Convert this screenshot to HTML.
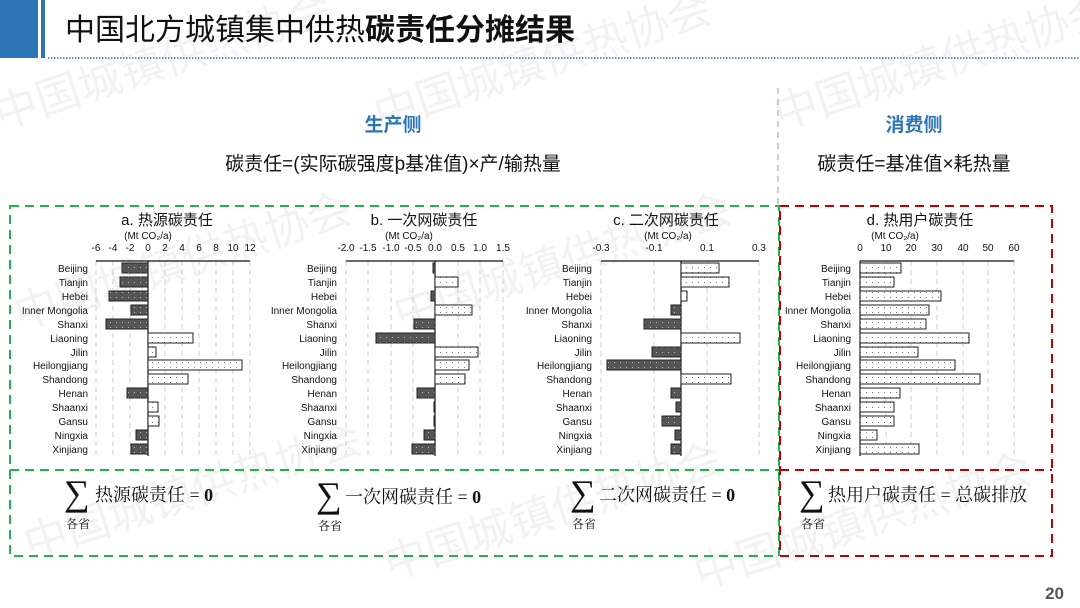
<!DOCTYPE html>
<html><head><meta charset="utf-8"><style>
body{margin:0;width:1080px;height:608px;background:#fff;overflow:hidden;position:relative;font-family:"Liberation Sans","Noto Sans CJK SC",sans-serif}
.abs{position:absolute;white-space:nowrap}
</style></head><body>
<svg class="abs" style="left:0;top:0" width="1080" height="608" xmlns="http://www.w3.org/2000/svg" font-family="Liberation Sans, Noto Sans CJK SC, sans-serif">
<defs>
<pattern id="dk" width="6" height="5" patternUnits="userSpaceOnUse"><rect width="6" height="5" fill="#555"/><rect x="2" y="2" width="1" height="1" fill="#bbb"/></pattern>
<pattern id="lt" width="6" height="5" patternUnits="userSpaceOnUse"><rect width="6" height="5" fill="#fff"/><rect x="2" y="2" width="1" height="1" fill="#777"/></pattern>
</defs>
<g fill="#000" fill-opacity="0.05" font-size="44">
<text transform="translate(0,130) rotate(-18)">中国城镇供热协会</text>
<text transform="translate(380,130) rotate(-18)">中国城镇供热协会</text>
<text transform="translate(780,130) rotate(-18)">中国城镇供热协会</text>
<text transform="translate(20,330) rotate(-18)">中国城镇供热协会</text>
<text transform="translate(400,330) rotate(-18)">中国城镇供热协会</text>
<text transform="translate(30,560) rotate(-18)">中国城镇供热协会</text>
<text transform="translate(390,580) rotate(-18)">中国城镇供热协会</text>
<text transform="translate(700,590) rotate(-18)">中国城镇供热协会</text>
</g>
<rect x="0" y="0" width="38" height="58" fill="#2e75b6"/>
<rect x="41" y="0" width="4" height="58" fill="#2e75b6"/>
<line x1="48" y1="58" x2="1080" y2="58" stroke="#2e75b6" stroke-width="1.5" stroke-dasharray="1.5,1.5"/>
<text x="65" y="40" font-size="30" fill="#111">中国北方城镇集中供热<tspan font-weight="bold">碳责任分摊结果</tspan></text>
<text x="393" y="131" font-size="19" font-weight="bold" fill="#2e75b6" text-anchor="middle">生产侧</text>
<text x="914" y="131" font-size="19" font-weight="bold" fill="#2e75b6" text-anchor="middle">消费侧</text>
<text x="393" y="170" font-size="19" fill="#111" text-anchor="middle">碳责任=(实际碳强度þ基准值)×产/输热量</text>
<text x="914" y="170" font-size="19" fill="#111" text-anchor="middle">碳责任=基准值×耗热量</text>
<line x1="778" y1="88" x2="778" y2="206" stroke="#bbb" stroke-width="1.5" stroke-dasharray="6,5"/>
<rect x="10" y="206" width="769" height="350" fill="none" stroke="#22b14c" stroke-width="2" stroke-dasharray="9,6"/>
<line x1="10" y1="470" x2="779" y2="470" stroke="#22b14c" stroke-width="2" stroke-dasharray="9,6"/>
<rect x="780" y="206" width="272" height="350" fill="none" stroke="#c00000" stroke-width="2" stroke-dasharray="9,6"/>
<line x1="780" y1="470" x2="1052" y2="470" stroke="#c00000" stroke-width="2" stroke-dasharray="9,6"/>
<g font-size="15" fill="#111" text-anchor="middle">
<text x="167" y="225">a. 热源碳责任</text>
<text x="424" y="225">b. 一次网碳责任</text>
<text x="666" y="225">c. 二次网碳责任</text>
<text x="920" y="225">d. 热用户碳责任</text>
</g>
<g font-size="10" fill="#111" text-anchor="middle">
<text x="148" y="239">(Mt CO₂/a)</text>
<text x="409" y="239">(Mt CO₂/a)</text>
<text x="668" y="239">(Mt CO₂/a)</text>
<text x="895" y="239">(Mt CO₂/a)</text>
</g>
<g font-size="10" fill="#111" text-anchor="middle">
<text x="96" y="251">-6</text><text x="113" y="251">-4</text><text x="130" y="251">-2</text><text x="148" y="251">0</text><text x="165" y="251">2</text><text x="182" y="251">4</text><text x="199" y="251">6</text><text x="216" y="251">8</text><text x="233" y="251">10</text><text x="250" y="251">12</text>
<text x="346" y="251">-2.0</text><text x="368" y="251">-1.5</text><text x="391" y="251">-1.0</text><text x="413" y="251">-0.5</text><text x="435" y="251">0.0</text><text x="458" y="251">0.5</text><text x="480" y="251">1.0</text><text x="503" y="251">1.5</text>
<text x="601" y="251">-0.3</text><text x="654" y="251">-0.1</text><text x="707" y="251">0.1</text><text x="759" y="251">0.3</text>
<text x="860" y="251">0</text><text x="886" y="251">10</text><text x="911" y="251">20</text><text x="937" y="251">30</text><text x="963" y="251">40</text><text x="988" y="251">50</text><text x="1014" y="251">60</text>
</g>
<g stroke="#ccc" stroke-width="1" stroke-dasharray="5,4">
<path d="M96 261V456M113 261V456M130 261V456M165 261V456M182 261V456M199 261V456M216 261V456M233 261V456M250 261V456"/>
<path d="M346 261V456M368 261V456M391 261V456M413 261V456M458 261V456M480 261V456M503 261V456"/>
<path d="M601 261V456M654 261V456M707 261V456M759 261V456"/>
<path d="M886 261V456M911 261V456M937 261V456M963 261V456M988 261V456M1014 261V456"/>
</g>
<g stroke="#111" stroke-width="1.2">
<path d="M96 261H250M148 261V456"/>
<path d="M346 261H503M435 261V456"/>
<path d="M601 261H759M681 261V456"/>
<path d="M860 261H1014M860 261V456"/>
</g>
<g font-size="10" fill="#111" text-anchor="end">
<g transform="translate(88,0)"><text y="272">Beijing</text><text y="286">Tianjin</text><text y="300">Hebei</text><text y="314">Inner Mongolia</text><text y="328">Shanxi</text><text y="342">Liaoning</text><text y="356">Jilin</text><text y="369">Heilongjiang</text><text y="383">Shandong</text><text y="397">Henan</text><text y="411">Shaanxi</text><text y="425">Gansu</text><text y="439">Ningxia</text><text y="453">Xinjiang</text></g>
<g transform="translate(337,0)"><text y="272">Beijing</text><text y="286">Tianjin</text><text y="300">Hebei</text><text y="314">Inner Mongolia</text><text y="328">Shanxi</text><text y="342">Liaoning</text><text y="356">Jilin</text><text y="369">Heilongjiang</text><text y="383">Shandong</text><text y="397">Henan</text><text y="411">Shaanxi</text><text y="425">Gansu</text><text y="439">Ningxia</text><text y="453">Xinjiang</text></g>
<g transform="translate(592,0)"><text y="272">Beijing</text><text y="286">Tianjin</text><text y="300">Hebei</text><text y="314">Inner Mongolia</text><text y="328">Shanxi</text><text y="342">Liaoning</text><text y="356">Jilin</text><text y="369">Heilongjiang</text><text y="383">Shandong</text><text y="397">Henan</text><text y="411">Shaanxi</text><text y="425">Gansu</text><text y="439">Ningxia</text><text y="453">Xinjiang</text></g>
<g transform="translate(851,0)"><text y="272">Beijing</text><text y="286">Tianjin</text><text y="300">Hebei</text><text y="314">Inner Mongolia</text><text y="328">Shanxi</text><text y="342">Liaoning</text><text y="356">Jilin</text><text y="369">Heilongjiang</text><text y="383">Shandong</text><text y="397">Henan</text><text y="411">Shaanxi</text><text y="425">Gansu</text><text y="439">Ningxia</text><text y="453">Xinjiang</text></g>
</g>
<g stroke="#222" stroke-width="1">
<rect x="122" y="263" width="26" height="10" fill="url(#dk)"/>
<rect x="120" y="277" width="28" height="10" fill="url(#dk)"/>
<rect x="109" y="291" width="39" height="10" fill="url(#dk)"/>
<rect x="131" y="305" width="17" height="10" fill="url(#dk)"/>
<rect x="106" y="319" width="42" height="10" fill="url(#dk)"/>
<rect x="148" y="333" width="45" height="10" fill="url(#lt)"/>
<rect x="148" y="347" width="8" height="10" fill="url(#lt)"/>
<rect x="148" y="360" width="94" height="10" fill="url(#lt)"/>
<rect x="148" y="374" width="40" height="10" fill="url(#lt)"/>
<rect x="127" y="388" width="21" height="10" fill="url(#dk)"/>
<rect x="148" y="402" width="10" height="10" fill="url(#lt)"/>
<rect x="148" y="416" width="11" height="10" fill="url(#lt)"/>
<rect x="136" y="430" width="12" height="10" fill="url(#dk)"/>
<rect x="131" y="444" width="17" height="10" fill="url(#dk)"/>
<rect x="433" y="263" width="2" height="10" fill="url(#dk)"/>
<rect x="435" y="277" width="23" height="10" fill="url(#lt)"/>
<rect x="431" y="291" width="4" height="10" fill="url(#dk)"/>
<rect x="435" y="305" width="37" height="10" fill="url(#lt)"/>
<rect x="414" y="319" width="21" height="10" fill="url(#dk)"/>
<rect x="376" y="333" width="59" height="10" fill="url(#dk)"/>
<rect x="435" y="347" width="43" height="10" fill="url(#lt)"/>
<rect x="435" y="360" width="34" height="10" fill="url(#lt)"/>
<rect x="435" y="374" width="30" height="10" fill="url(#lt)"/>
<rect x="417" y="388" width="18" height="10" fill="url(#dk)"/>
<rect x="434" y="402" width="1" height="10" fill="url(#dk)"/>
<rect x="434" y="416" width="1" height="10" fill="url(#dk)"/>
<rect x="424" y="430" width="11" height="10" fill="url(#dk)"/>
<rect x="412" y="444" width="23" height="10" fill="url(#dk)"/>
<rect x="681" y="263" width="38" height="10" fill="url(#lt)"/>
<rect x="681" y="277" width="48" height="10" fill="url(#lt)"/>
<rect x="681" y="291" width="6" height="10" fill="url(#lt)"/>
<rect x="671" y="305" width="10" height="10" fill="url(#dk)"/>
<rect x="644" y="319" width="37" height="10" fill="url(#dk)"/>
<rect x="681" y="333" width="59" height="10" fill="url(#lt)"/>
<rect x="652" y="347" width="29" height="10" fill="url(#dk)"/>
<rect x="607" y="360" width="74" height="10" fill="url(#dk)"/>
<rect x="681" y="374" width="50" height="10" fill="url(#lt)"/>
<rect x="671" y="388" width="10" height="10" fill="url(#dk)"/>
<rect x="676" y="402" width="5" height="10" fill="url(#dk)"/>
<rect x="662" y="416" width="19" height="10" fill="url(#dk)"/>
<rect x="675" y="430" width="6" height="10" fill="url(#dk)"/>
<rect x="671" y="444" width="10" height="10" fill="url(#dk)"/>
<rect x="860" y="263" width="41" height="10" fill="url(#lt)"/>
<rect x="860" y="277" width="34" height="10" fill="url(#lt)"/>
<rect x="860" y="291" width="81" height="10" fill="url(#lt)"/>
<rect x="860" y="305" width="69" height="10" fill="url(#lt)"/>
<rect x="860" y="319" width="66" height="10" fill="url(#lt)"/>
<rect x="860" y="333" width="109" height="10" fill="url(#lt)"/>
<rect x="860" y="347" width="58" height="10" fill="url(#lt)"/>
<rect x="860" y="360" width="95" height="10" fill="url(#lt)"/>
<rect x="860" y="374" width="120" height="10" fill="url(#lt)"/>
<rect x="860" y="388" width="40" height="10" fill="url(#lt)"/>
<rect x="860" y="402" width="34" height="10" fill="url(#lt)"/>
<rect x="860" y="416" width="34" height="10" fill="url(#lt)"/>
<rect x="860" y="430" width="17" height="10" fill="url(#lt)"/>
<rect x="860" y="444" width="59" height="10" fill="url(#lt)"/>
</g>
<g font-family="Liberation Serif, Noto Serif CJK SC, serif" fill="#111">
<text x="64" y="505" font-size="36">∑</text><text x="66" y="528" font-size="12">各省</text>
<text x="95" y="501" font-size="18">热源碳责任 = <tspan font-weight="bold">0</tspan></text>
<text x="316" y="507" font-size="36">∑</text><text x="318" y="530" font-size="12">各省</text>
<text x="345" y="503" font-size="18">一次网碳责任 = <tspan font-weight="bold">0</tspan></text>
<text x="570" y="505" font-size="36">∑</text><text x="572" y="528" font-size="12">各省</text>
<text x="599" y="501" font-size="18">二次网碳责任 = <tspan font-weight="bold">0</tspan></text>
<text x="799" y="505" font-size="36">∑</text><text x="801" y="528" font-size="12">各省</text>
<text x="828" y="501" font-size="18">热用户碳责任 = 总碳排放</text>
</g>
<text x="1064" y="599" font-size="17" font-weight="bold" fill="#555" text-anchor="end">20</text>
</svg>
</body></html>
